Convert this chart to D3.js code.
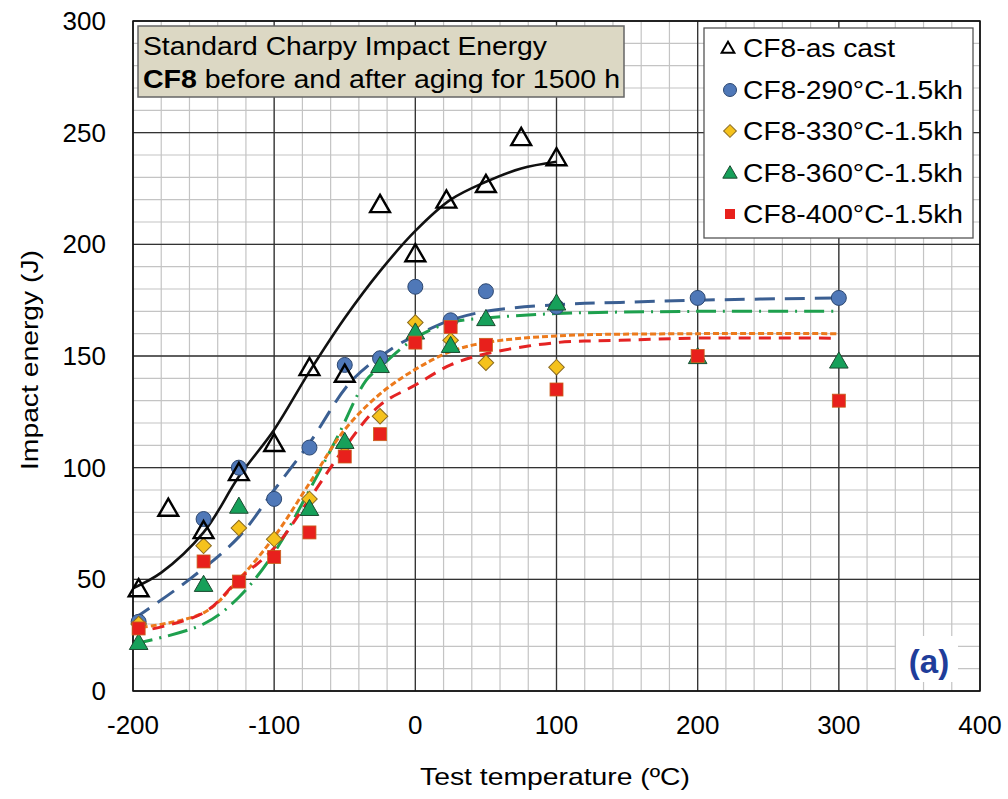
<!DOCTYPE html>
<html lang="en">
<head>
<meta charset="UTF-8">
<title>Charpy CF8</title>
<style>
  body { margin: 0; background: #fff; }
  text { font-family: 'Liberation Sans', Arial, sans-serif; }
</style>
</head>
<body>
<svg id="svg" width="1008" height="799"></svg>
<script src="https://d3js.org/d3.v7.min.js"></script>
<script>
// ---- data ----
const seriesNames = ['CF8-as cast', 'CF8-290°C-1.5kh', 'CF8-330°C-1.5kh', 'CF8-360°C-1.5kh', 'CF8-400°C-1.5kh']

const castT = [-196, -175, -150, -125, -100, -75, -50, -25, 0, 22, 50, 75, 100]
const castE = [45, 81, 71, 97, 110, 144, 141, 217, 195, 219, 226, 247, 238]

const t290T = [-196, -150, -125, -100, -75, -50, -25, 0, 25, 50, 100, 200, 300]
const t290E = [31, 77, 100, 86, 109, 146, 149, 181, 166, 179, 172, 176, 176]

const t330T = [-196, -150, -125, -100, -75, -50, -25, 0, 25, 50, 100]
const t330E = [30, 65, 73, 68, 86, 110, 123, 165, 157, 147, 145]

const t360T = [-196, -150, -125, -75, -50, -25, 0, 25, 50, 100, 200, 300]
const t360E = [21, 47, 82, 81, 111, 145, 160, 154, 166, 173, 149, 147]

const t400T = [-196, -150, -125, -100, -75, -50, -25, 0, 25, 50, 100, 200, 300]
const t400E = [28, 58, 49, 60, 71, 105, 115, 156, 163, 155, 135, 150, 130]

// fitted trend curves
const fitCastT = [-200, -180, -150, -125, -100, -75, -50, -25, 0, 25, 50, 75, 100]
const fitCastE = [46, 53, 71, 96, 117, 143, 167, 188, 206, 220, 228, 234, 237]

const fit290T = [-200, -160, -125, -100, -75, -45, -15, 0, 25, 50, 100, 145, 200, 300]
const fit290E = [32, 50, 69, 90, 111, 139, 154, 159, 166, 170, 173, 174, 175, 176]

const fit330T = [-200, -150, -125, -100, -75, -50, -25, 0, 25, 50, 100, 200, 300]
const fit330E = [28, 35, 50, 69, 93, 117, 133, 144, 152, 156, 159, 160, 160]

const fit360T = [-200, -150, -125, -100, -75, -55, -35, -25, 0, 25, 50, 100, 200, 300]
const fit360E = [21, 30, 42, 62, 90, 114, 139, 145, 158, 165, 167, 169, 170, 170]

const fit400T = [-200, -150, -125, -100, -75, -50, -25, 0, 25, 50, 100, 145, 200, 295]
const fit400E = [26, 35, 50, 64, 86, 109, 128, 137, 146, 151, 156, 157, 158, 158]

const xTicks = [-200, -100, 0, 100, 200, 300, 400]
const yTicks = [0, 50, 100, 150, 200, 250, 300]

// ---- layout ----
const svg = d3.select('#svg')
const plotL = 133, plotR = 980, plotT = 21, plotB = 691

const x = d3.scaleLinear().domain([-200, 400]).range([plotL, plotR])
const y = d3.scaleLinear().domain([0, 300]).range([plotB, plotT])

// grid
const grid = svg.append('g')
grid.selectAll('.vminor')
  .data(d3.range(-200, 401, 20))
  .enter().append('line')
  .attr('x1', d => x(d)).attr('x2', d => x(d))
  .attr('y1', plotT).attr('y2', plotB)
  .attr('stroke', '#c4c4c4').attr('stroke-width', 1.2)
grid.selectAll('.hminor')
  .data(d3.range(0, 301, 10))
  .enter().append('line')
  .attr('y1', d => y(d)).attr('y2', d => y(d))
  .attr('x1', plotL).attr('x2', plotR)
  .attr('stroke', '#c4c4c4').attr('stroke-width', 1.2)
grid.selectAll('.vmajor')
  .data(xTicks)
  .enter().append('line')
  .attr('x1', d => x(d)).attr('x2', d => x(d))
  .attr('y1', plotT).attr('y2', plotB)
  .attr('stroke', '#333').attr('stroke-width', 1.3)
grid.selectAll('.hmajor')
  .data(yTicks)
  .enter().append('line')
  .attr('y1', d => y(d)).attr('y2', d => y(d))
  .attr('x1', plotL).attr('x2', plotR)
  .attr('stroke', '#333').attr('stroke-width', 1.3)

svg.append('rect')
  .attr('x', plotL).attr('y', plotT)
  .attr('width', plotR - plotL).attr('height', plotB - plotT)
  .attr('fill', 'none').attr('stroke', '#111').attr('stroke-width', 1.5)

// tick labels
svg.append('g').selectAll('text')
  .data(yTicks)
  .enter().append('text')
  .attr('x', 106).attr('y', d => y(d) + 9)
  .attr('text-anchor', 'end')
  .style('font-size', '26px')
  .text(d => d)

svg.append('g').selectAll('text')
  .data(xTicks)
  .enter().append('text')
  .attr('x', d => x(d)).attr('y', 734)
  .attr('text-anchor', 'middle')
  .style('font-size', '26px')
  .text(d => d)

svg.append('text')
  .attr('x', 420).attr('y', 785)
  .attr('textLength', 270).attr('lengthAdjust', 'spacingAndGlyphs')
  .style('font-size', '24px')
  .text('Test temperature  (ºC)')

svg.append('text')
  .attr('transform', 'translate(38,470) rotate(-90)')
  .attr('textLength', 220).attr('lengthAdjust', 'spacingAndGlyphs')
  .style('font-size', '24px')
  .text('Impact energy (J)')

// fit curves
const line = d3.line()
  .x(d => x(d[0])).y(d => y(d[1]))
  .curve(d3.curveCatmullRom.alpha(0.5))

const fits = [
  { t: fitCastT, e: fitCastE, color: '#111', dash: null, w: 2.6 },
  { t: fit290T, e: fit290E, color: '#3b5f92', dash: '20,10', w: 3 },
  { t: fit360T, e: fit360E, color: '#1ea04e', dash: '20,7,2,7', w: 3 },
  { t: fit330T, e: fit330E, color: '#ec7a1c', dash: '6,3', w: 3 },
  { t: fit400T, e: fit400E, color: '#e42323', dash: '12,8', w: 3 }
]
svg.append('g').selectAll('path')
  .data(fits)
  .enter().append('path')
  .attr('d', d => line(d.t.map((t, i) => [t, d.e[i]])))
  .attr('fill', 'none')
  .attr('stroke', d => d.color)
  .attr('stroke-width', d => d.w)
  .attr('stroke-dasharray', d => d.dash)

// markers: circles, diamonds, triangles, squares, then open triangles on top
const triSym = d3.symbol().type(d3.symbolTriangle)

function points(tArr, eArr) { return tArr.map((t, i) => [t, eArr[i]]) }

const pts = svg.append('g')
pts.selectAll('.c290')
  .data(points(t290T, t290E))
  .enter().append('circle')
  .attr('cx', d => x(d[0])).attr('cy', d => y(d[1]))
  .attr('r', 7.5)
  .attr('fill', '#4f78b8').attr('stroke', '#2c4770').attr('stroke-width', 1)
pts.selectAll('.c330')
  .data(points(t330T, t330E))
  .enter().append('rect')
  .attr('x', -5.5).attr('y', -5.5).attr('width', 11).attr('height', 11)
  .attr('transform', d => `translate(${x(d[0])},${y(d[1])}) rotate(45)`)
  .attr('fill', '#f5c21c').attr('stroke', '#8a6a20').attr('stroke-width', 1)
pts.selectAll('.c360')
  .data(points(t360T, t360E))
  .enter().append('path')
  .attr('d', triSym.size(150))
  .attr('transform', d => `translate(${x(d[0])},${y(d[1])})`)
  .attr('fill', '#16a05a').attr('stroke', '#1c4a30').attr('stroke-width', 1)
pts.selectAll('.c400')
  .data(points(t400T, t400E))
  .enter().append('rect')
  .attr('x', d => x(d[0]) - 6.5).attr('y', d => y(d[1]) - 6.5)
  .attr('width', 13).attr('height', 13)
  .attr('fill', '#e8201c').attr('stroke', '#c8601c').attr('stroke-width', 0.8)
pts.selectAll('.cast')
  .data(points(castT, castE))
  .enter().append('path')
  .attr('d', triSym.size(170))
  .attr('transform', d => `translate(${x(d[0])},${y(d[1])})`)
  .attr('fill', 'none').attr('stroke', '#000').attr('stroke-width', 2.4)

// title box
const tb = svg.append('g')
tb.append('rect')
  .attr('x', 138).attr('y', 26).attr('width', 486).attr('height', 71)
  .attr('fill', '#dcd8c4').attr('stroke', '#666').attr('stroke-width', 1.5)
tb.append('text')
  .attr('x', 143).attr('y', 55)
  .attr('textLength', 404).attr('lengthAdjust', 'spacingAndGlyphs')
  .style('font-size', '26px')
  .text('Standard Charpy Impact Energy')
const t2 = tb.append('text')
  .attr('x', 143).attr('y', 88)
  .attr('textLength', 477).attr('lengthAdjust', 'spacingAndGlyphs')
  .style('font-size', '26px')
t2.append('tspan').style('font-weight', 'bold').text('CF8')
t2.append('tspan').text(' before and after aging for 1500 h')

// legend
const lg = svg.append('g')
lg.append('rect')
  .attr('x', 704).attr('y', 28).attr('width', 269).attr('height', 210)
  .attr('fill', '#fff').attr('stroke', '#555').attr('stroke-width', 1.3)
const legY = [48, 90, 131, 173, 214]
const legW = [152, 220, 220, 220, 220]
lg.selectAll('text')
  .data(seriesNames)
  .enter().append('text')
  .attr('x', 743).attr('y', (d, i) => legY[i] + 9)
  .attr('textLength', (d, i) => legW[i]).attr('lengthAdjust', 'spacingAndGlyphs')
  .style('font-size', '25px')
  .text(d => d)
lg.append('path')
  .attr('d', d3.symbol().type(d3.symbolTriangle).size(70)())
  .attr('transform', `translate(728,${legY[0] + 1})`)
  .attr('fill', 'none').attr('stroke', '#000').attr('stroke-width', 2)
lg.append('circle')
  .attr('cx', 730).attr('cy', legY[1]).attr('r', 6.5)
  .attr('fill', '#4f78b8').attr('stroke', '#2c4770')
lg.append('rect')
  .attr('x', -4.5).attr('y', -4.5).attr('width', 9).attr('height', 9)
  .attr('transform', `translate(730,${legY[2]}) rotate(45)`)
  .attr('fill', '#f5c21c').attr('stroke', '#8a6a20')
lg.append('path')
  .attr('d', d3.symbol().type(d3.symbolTriangle).size(90)())
  .attr('transform', `translate(730,${legY[3] + 1})`)
  .attr('fill', '#16a05a').attr('stroke', '#1c4a30')
lg.append('rect')
  .attr('x', 725).attr('y', legY[4] - 5).attr('width', 10).attr('height', 10)
  .attr('fill', '#e8201c')

// panel label
svg.append('rect')
  .attr('x', 896).attr('y', 636).attr('width', 62).attr('height', 46)
  .attr('fill', '#fff')
svg.append('text')
  .attr('x', 929).attr('y', 673)
  .attr('text-anchor', 'middle')
  .style('font-size', '33px').style('font-weight', 'bold')
  .attr('fill', '#1f3d9a')
  .text('(a)')
</script>
</body>
</html>
